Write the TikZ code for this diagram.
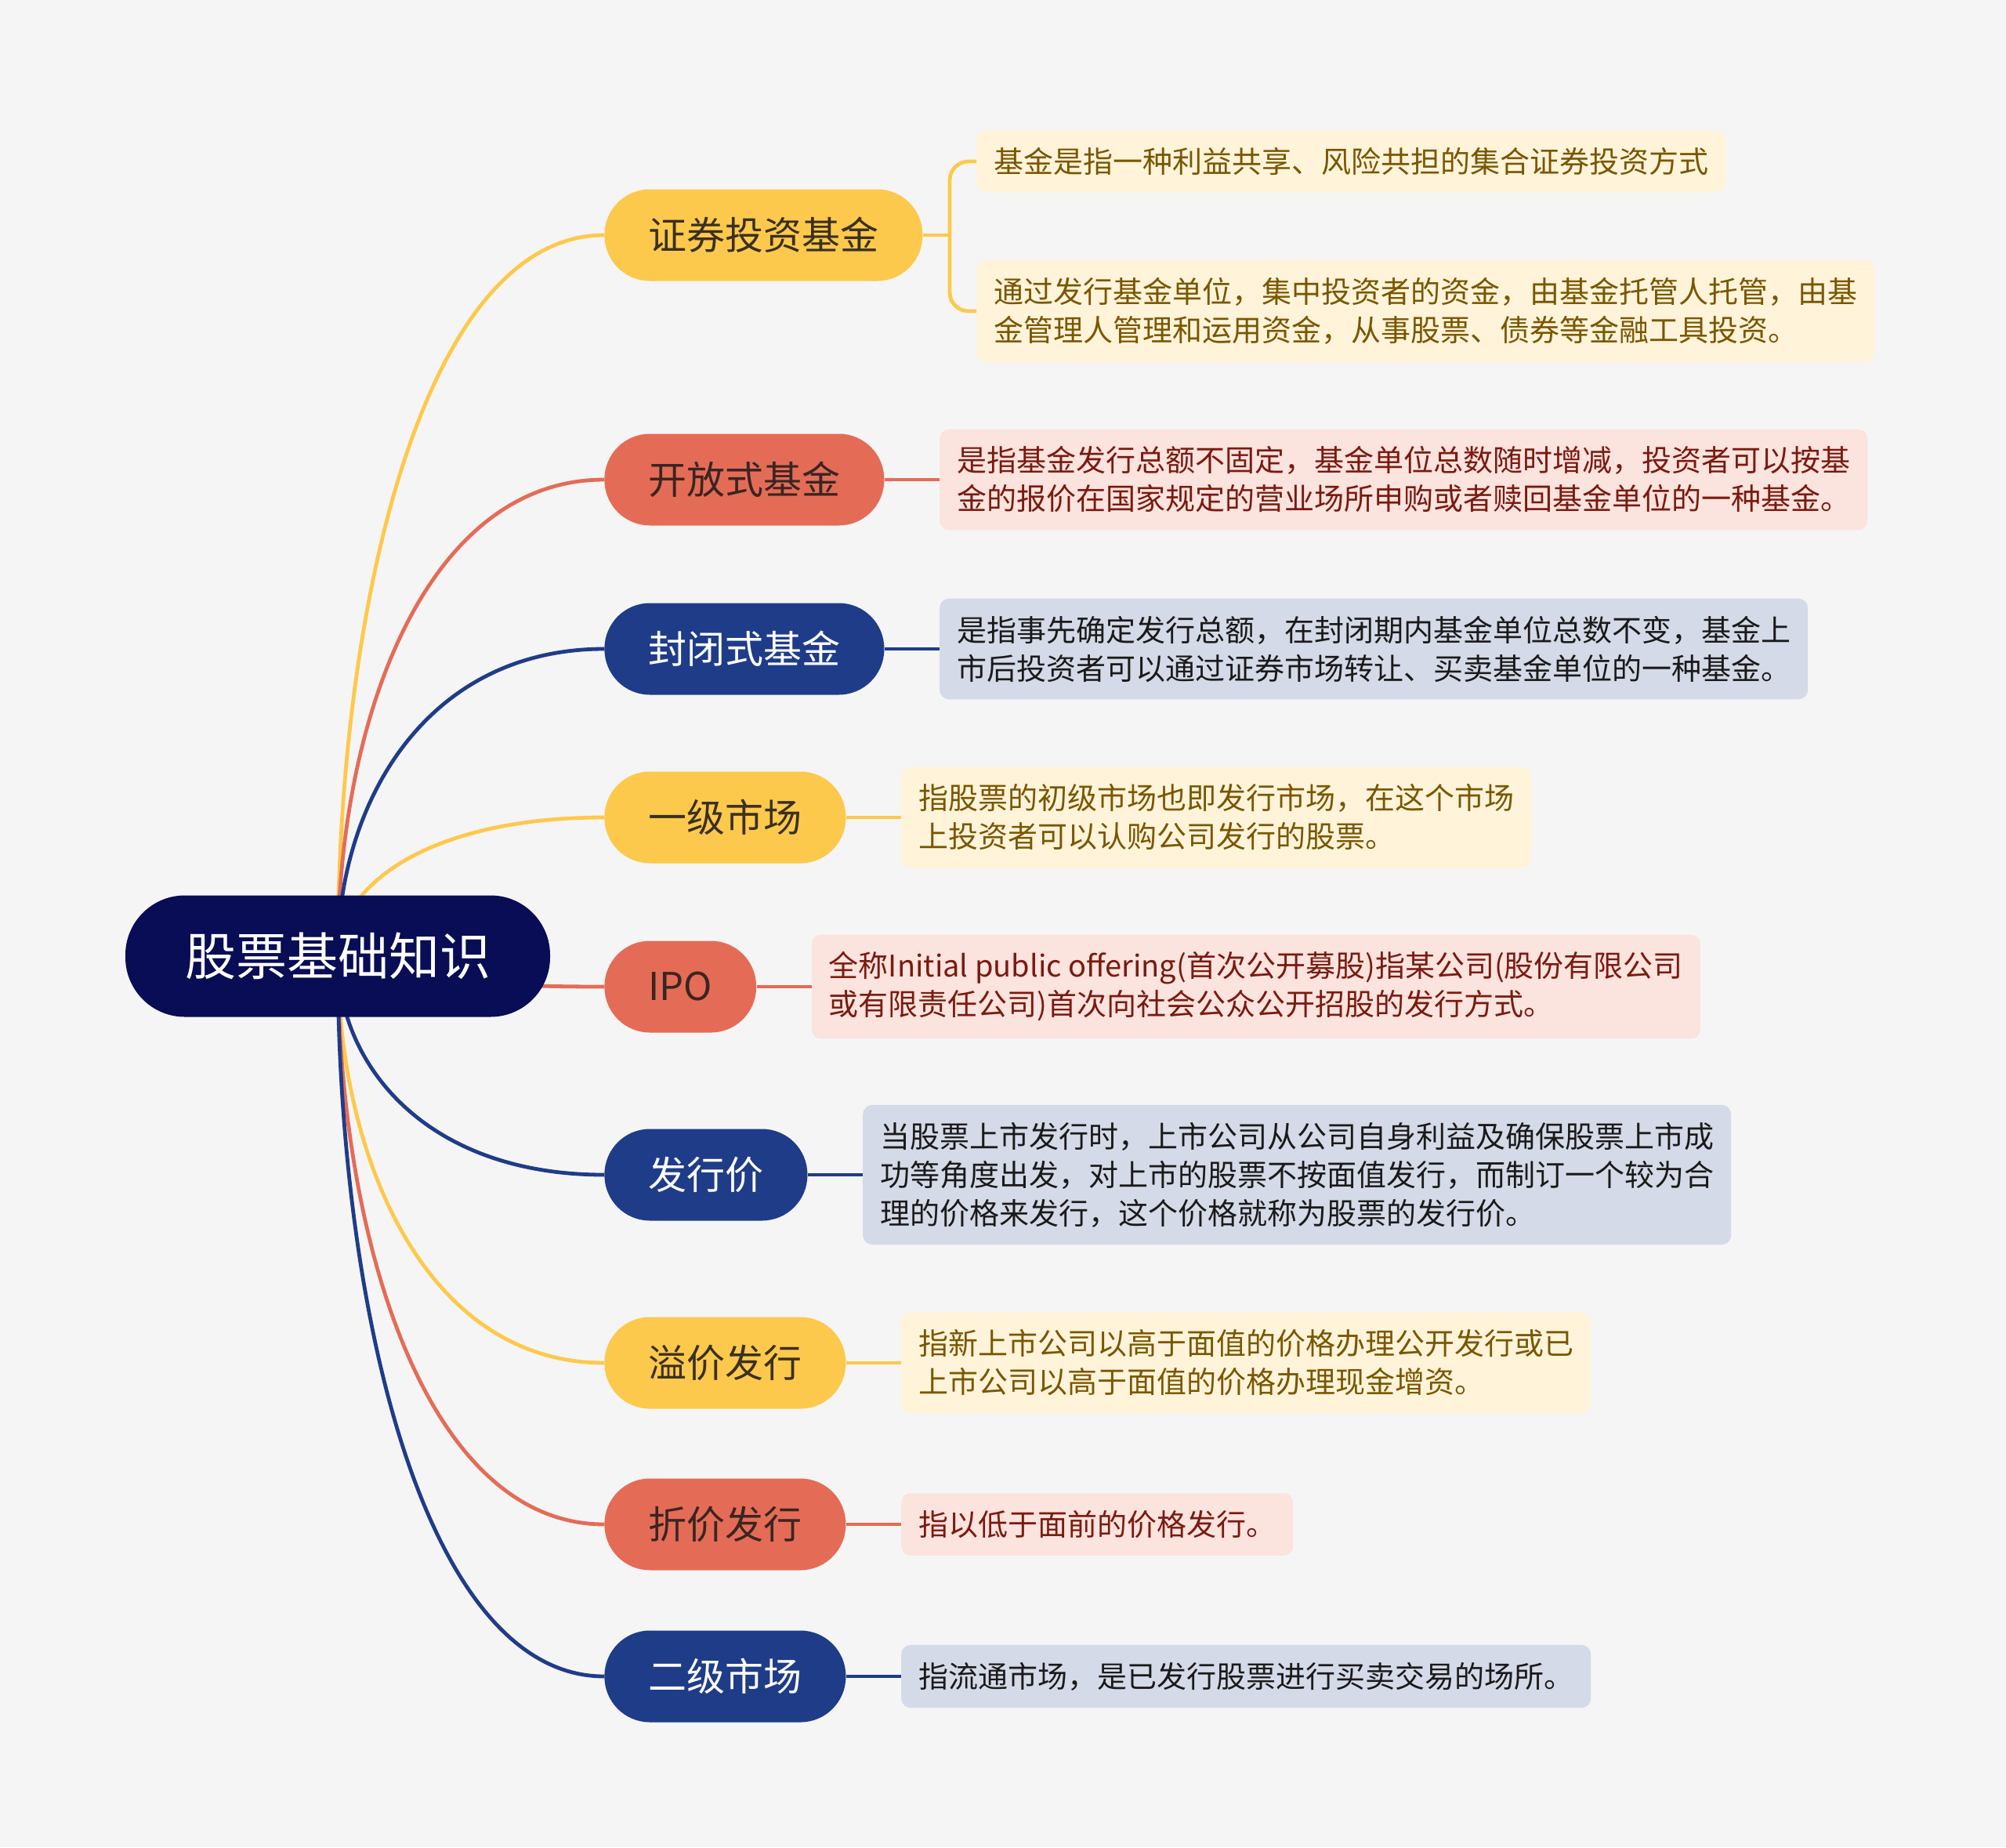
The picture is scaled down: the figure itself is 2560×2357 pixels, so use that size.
\documentclass[tikz,border=0pt]{standalone}
\usepackage{fontspec}
\setmainfont{Noto Sans CJK SC}
\usepackage{xcolor}
\usetikzlibrary{positioning, calc, backgrounds}

\definecolor{bgcol}{HTML}{F5F5F5}
\definecolor{rootblue}{HTML}{080D55}
\definecolor{myyellow}{HTML}{FDC94C}
\definecolor{myred}{HTML}{E46C57}
\definecolor{mynavy}{HTML}{1F3C88}
\definecolor{yleaf}{HTML}{FFF4DA}
\definecolor{rleaf}{HTML}{FBE3DE}
\definecolor{nleaf}{HTML}{D5DAE8}
\definecolor{ytxt}{HTML}{7A5600}
\definecolor{rtxt}{HTML}{7A1A10}
\definecolor{ntxt}{HTML}{1A1A1A}
\definecolor{ybtxt}{HTML}{3A3020}
\definecolor{rbtxt}{HTML}{3A2522}

\tikzset{
  mmcurve/.style={to path={.. controls ($(\tikztostart)!0.5!(\tikztostart |- \tikztotarget)$)
    and ($(\tikztotarget)!0.667!(\tikztostart |- \tikztotarget)$) .. (\tikztotarget)}},
  rootnode/.style={fill=rootblue, text=white, rounded corners=38pt, minimum height=77.5pt,
    inner xsep=38pt, font=\fontsize{32.5}{36}\selectfont},
  branch/.style={anchor=west, minimum height=58.5pt, rounded corners=29pt, inner xsep=28pt,
    font=\fontsize{24.5}{28}\selectfont},
  ybranch/.style={branch, fill=myyellow, text=ybtxt},
  rbranch/.style={branch, fill=myred, text=rbtxt},
  nbranch/.style={branch, fill=mynavy, text=white},
  leaf/.style={anchor=west, rounded corners=6pt, inner xsep=11pt, inner ysep=11pt, align=left,
    font=\fontsize{19}{24.5}\selectfont},
  yleafnode/.style={leaf, fill=yleaf, text=ytxt},
  rleafnode/.style={leaf, fill=rleaf, text=rtxt},
  nleafnode/.style={leaf, fill=nleaf, text=ntxt},
  ylink/.style={draw=myyellow, line width=2.4pt},
  rlink/.style={draw=myred, line width=2.4pt},
  nlink/.style={draw=mynavy, line width=2.4pt}
}

\begin{document}
\begin{tikzpicture}[x=0.5pt, y=-0.5pt, node distance=35pt]
\useasboundingbox (0,0) rectangle (2560,2357);
% 中心与分支
\node[rootnode] (root) at (431,1220) {股票基础知识};
\node[ybranch] (zqjj) at (771,300) {证券投资基金};
\node[rbranch] (kfs) at (771,612) {开放式基金};
\node[nbranch] (fbs) at (771,828) {封闭式基金};
\node[ybranch] (yjsc) at (771,1043) {一级市场};
\node[rbranch] (ipo) at (771,1259) {IPO};
\node[nbranch] (fxj) at (771,1499) {发行价};
\node[ybranch] (yjfx) at (771,1739) {溢价发行};
\node[rbranch] (zjfx) at (771,1945) {折价发行};
\node[nbranch] (ejsc) at (771,2139) {二级市场};
% 说明
\node[yleafnode] (zqa) at (1246,206) {基金是指一种利益共享、风险共担的集合证券投资方式};
\node[yleafnode] (zqb) at (1246,397) {通过发行基金单位，集中投资者的资金，由基金托管人托管，由基\\金管理人管理和运用资金，从事股票、债券等金融工具投资。};
\node[rleafnode, right=of kfs] (kfsa) {是指基金发行总额不固定，基金单位总数随时增减，投资者可以按基\\金的报价在国家规定的营业场所申购或者赎回基金单位的一种基金。};
\node[nleafnode, right=of fbs] (fbsa) {是指事先确定发行总额，在封闭期内基金单位总数不变，基金上\\市后投资者可以通过证券市场转让、买卖基金单位的一种基金。};
\node[yleafnode, right=of yjsc] (yjsca) {指股票的初级市场也即发行市场，在这个市场\\上投资者可以认购公司发行的股票。};
\node[rleafnode, right=of ipo] (ipoa) {全称Initial public offering(首次公开募股)指某公司(股份有限公司\\或有限责任公司)首次向社会公众公开招股的发行方式。};
\node[nleafnode, right=of fxj] (fxja) {当股票上市发行时，上市公司从公司自身利益及确保股票上市成\\功等角度出发，对上市的股票不按面值发行，而制订一个较为合\\理的价格来发行，这个价格就称为股票的发行价。};
\node[yleafnode, right=of yjfx] (yjfxa) {指新上市公司以高于面值的价格办理公开发行或已\\上市公司以高于面值的价格办理现金增资。};
\node[rleafnode, right=of zjfx] (zjfxa) {指以低于面前的价格发行。};
\node[nleafnode, right=of ejsc] (ejsca) {指流通市场，是已发行股票进行买卖交易的场所。};
\coordinate (brk) at (1212,300);
% 连线
\begin{scope}[on background layer]
\fill[bgcol] (0,0) rectangle (2560,2357);
\path (root.center) edge[ylink, mmcurve] (zqjj.west)
      (root.center) edge[rlink, mmcurve] (kfs.west)
      (root.center) edge[nlink, mmcurve] (fbs.west)
      (root.center) edge[ylink, mmcurve] (yjsc.west)
      (root.center) edge[rlink, mmcurve] (ipo.west)
      (root.center) edge[nlink, mmcurve] (fxj.west)
      (root.center) edge[ylink, mmcurve] (yjfx.west)
      (root.center) edge[rlink, mmcurve] (zjfx.west)
      (root.center) edge[nlink, mmcurve] (ejsc.west);
\end{scope}
\draw[ylink] (zqjj.east) -- (brk);
\draw[ylink, rounded corners=12pt] (zqa.west) -| (brk) |- (zqb.west);
\path (kfs) edge[rlink] (kfsa)
      (fbs) edge[nlink] (fbsa)
      (yjsc) edge[ylink] (yjsca)
      (ipo) edge[rlink] (ipoa)
      (fxj) edge[nlink] (fxja)
      (yjfx) edge[ylink] (yjfxa)
      (zjfx) edge[rlink] (zjfxa)
      (ejsc) edge[nlink] (ejsca);
\end{tikzpicture}
\end{document}
